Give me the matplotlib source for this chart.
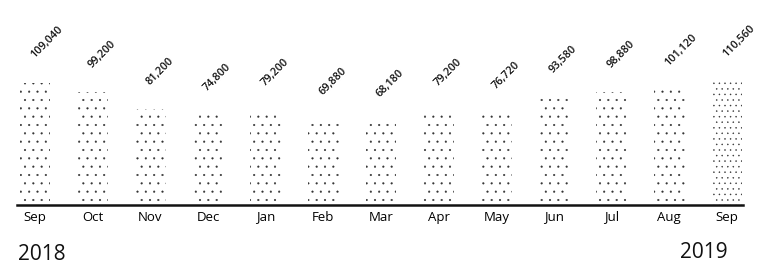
import matplotlib
matplotlib.use("Agg")
import matplotlib.pyplot as plt
import numpy as np

months = ["Sep", "Oct", "Nov", "Dec", "Jan", "Feb", "Mar", "Apr", "May", "Jun", "Jul", "Aug", "Sep"]
values = [109040, 99200, 81200, 74800, 79200, 69880, 68180, 79200, 76720, 93580, 98880, 101120, 110560]
value_labels = ["109,040", "99,200", "81,200", "74,800", "79,200", "69,880", "68,180",
                "79,200", "76,720", "93,580", "98,880", "101,120", "110,560"]
year_start = "2018"
year_end = "2019"

plt.rcParams['font.family'] = ['Open Sans', 'DejaVu Sans']
plt.rcParams['hatch.linewidth'] = 0.3

fig = plt.figure(figsize=(7.66, 2.76), dpi=100)
ax = fig.add_axes([17/766, 71/276, 726/766, 195/276])

BASE = -20000
x = np.arange(len(values))
heights = np.array(values) - BASE
hatches = ['..'] * (len(values) - 1) + ['...']
for xi, h, ht in zip(x, heights, hatches):
    ax.bar(xi, h, bottom=BASE, width=0.53, facecolor='white', edgecolor='#333333',
           linewidth=0, hatch=ht)

for xi, v, lab in zip(x, values, value_labels):
    ax.annotate(lab, (xi, v), xytext=(1, 16), textcoords='offset points',
                rotation=45, rotation_mode='anchor', ha='left', va='bottom',
                fontsize=7.8, fontweight='semibold', color='#111111')

ax.set_xlim(-0.312, 12.277)
ax.set_ylim(BASE, 186000)
ax.set_xticks(x)
ax.set_xticklabels(months, fontsize=9.5, fontweight='medium')
ax.tick_params(axis='x', length=0, pad=4)
ax.set_yticks([])
for s in ['left', 'right', 'top']:
    ax.spines[s].set_visible(False)
ax.spines['bottom'].set_linewidth(1.8)
ax.spines['bottom'].set_color('#111111')

fig.text(18/766, 1 - 254/276, year_start, fontsize=15, fontweight='medium', ha='left', va='center', color='#111111')
fig.text(728/766, 1 - 252/276, year_end, fontsize=15, fontweight='medium', ha='right', va='center', color='#111111')

fig.savefig("out.png", dpi=100)
